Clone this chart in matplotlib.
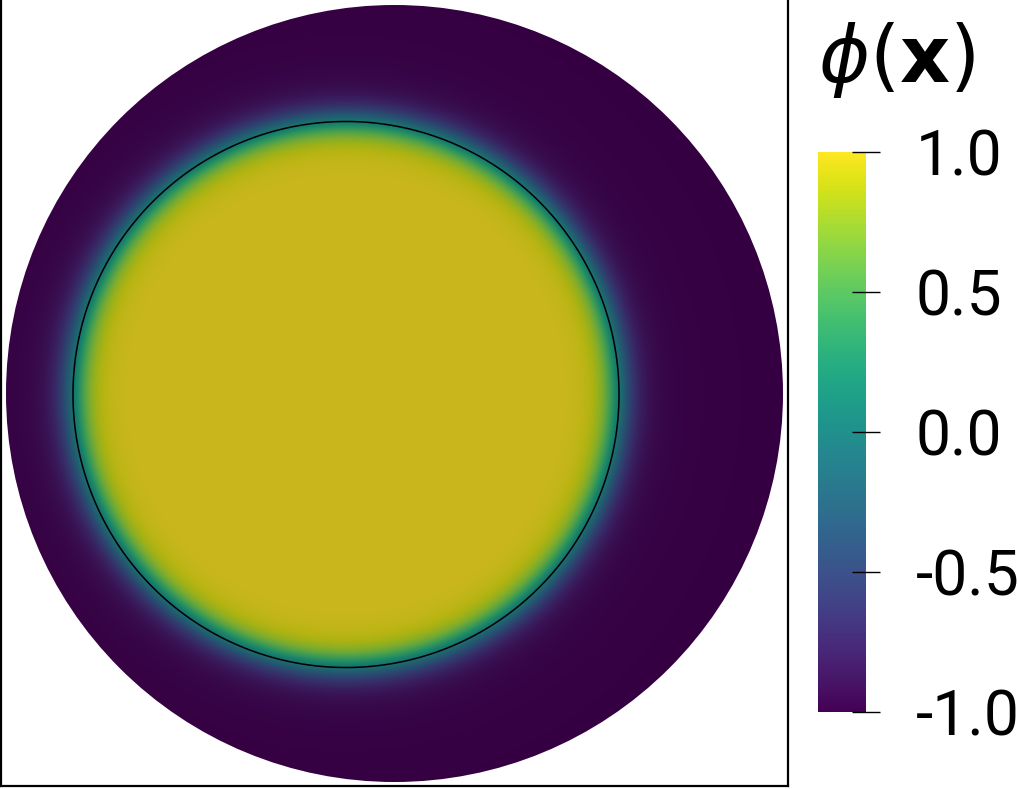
import numpy as np
import matplotlib
matplotlib.use("Agg")
import matplotlib.pyplot as plt
from matplotlib.colors import ListedColormap, Normalize
from matplotlib.cm import ScalarMappable
from matplotlib.patches import Circle

# ---- data (pixel-space geometry of the phase field) ----
domain_center = (394.5, 393.5)
domain_radius = 388.5
drop_center = (346.0, 394.5)
drop_radius = 273.0
interface_width = 19.0      # tanh width (px)
tail_amp = 0.07             # weak outer tail of the profile
tail_len = 55.0
phi_min, phi_max = -1.0, 1.0
cbar_ticks = [-1.0, -0.5, 0.0, 0.5, 1.0]
cbar_ticklabels = ["-1.0", "-0.5", "0.0", "0.5", "1.0"]
title_text = r"$\phi(\mathbf{x})$"
shade = 0.79

W, H = 1018, 789
fig = plt.figure(figsize=(W / 100, H / 100), dpi=100)
plt.rcParams["mathtext.fontset"] = "dejavusans"

# main axes in pixel coordinates
x0, x1, y0, y1 = 1, 788, 0, 786
ax = fig.add_axes([x0 / W, 1 - y1 / H, (x1 - x0) / W, (y1 - y0) / H])
ax.set_xlim(x0, x1)
ax.set_ylim(y1, y0)
ax.set_xticks([]); ax.set_yticks([])
for s in ["left", "right", "bottom"]:
    ax.spines[s].set_linewidth(1.6)
    ax.spines[s].set_color("black")
ax.spines["top"].set_visible(False)

# field
xs = np.arange(domain_center[0] - domain_radius - 2, domain_center[0] + domain_radius + 2, 0.5)
ys = np.arange(domain_center[1] - domain_radius - 2, domain_center[1] + domain_radius + 2, 0.5)
X, Y = np.meshgrid(xs, ys)
d = np.hypot(X - drop_center[0], Y - drop_center[1])
sdist = drop_radius - d
phi = np.tanh(sdist / interface_width)
phi = phi + np.where(sdist < 0, tail_amp * np.exp(sdist / tail_len) * (1 - np.exp(sdist / 8.0)), 0.0)
phi = np.clip(phi, -1, 1)

base = plt.get_cmap("viridis")(np.linspace(0, 1, 256))
shaded = base.copy()
shaded[:, :3] *= shade
cmap_shaded = ListedColormap(shaded)

im = ax.imshow(phi, cmap=cmap_shaded, vmin=phi_min, vmax=phi_max,
               extent=[xs[0], xs[-1], ys[-1], ys[0]], origin="upper",
               interpolation="bilinear")
clip = Circle(domain_center, domain_radius, transform=ax.transData)
im.set_clip_path(clip)

ax.contour(X, Y, phi, levels=[0.0], colors="black", linewidths=1.1)

# colorbar
cb_l, cb_r, cb_t, cb_b = 818, 866, 152, 712
cax = fig.add_axes([cb_l / W, 1 - cb_b / H, (cb_r - cb_l) / W, (cb_b - cb_t) / H])
sm = ScalarMappable(norm=Normalize(phi_min, phi_max), cmap="viridis")
cb = fig.colorbar(sm, cax=cax)
cb.outline.set_visible(False)
cb.set_ticks(cbar_ticks)
cb.set_ticklabels(cbar_ticklabels)
cax.tick_params(direction="inout", length=20, width=1.0, pad=26,
                labelsize=45, colors="black")
for lab in cax.get_yticklabels():
    lab.set_family("Roboto")

fig.text(818 / W, 1 - 82 / H, title_text, fontsize=56, va="baseline", ha="left")

fig.savefig("out.png", dpi=100)
